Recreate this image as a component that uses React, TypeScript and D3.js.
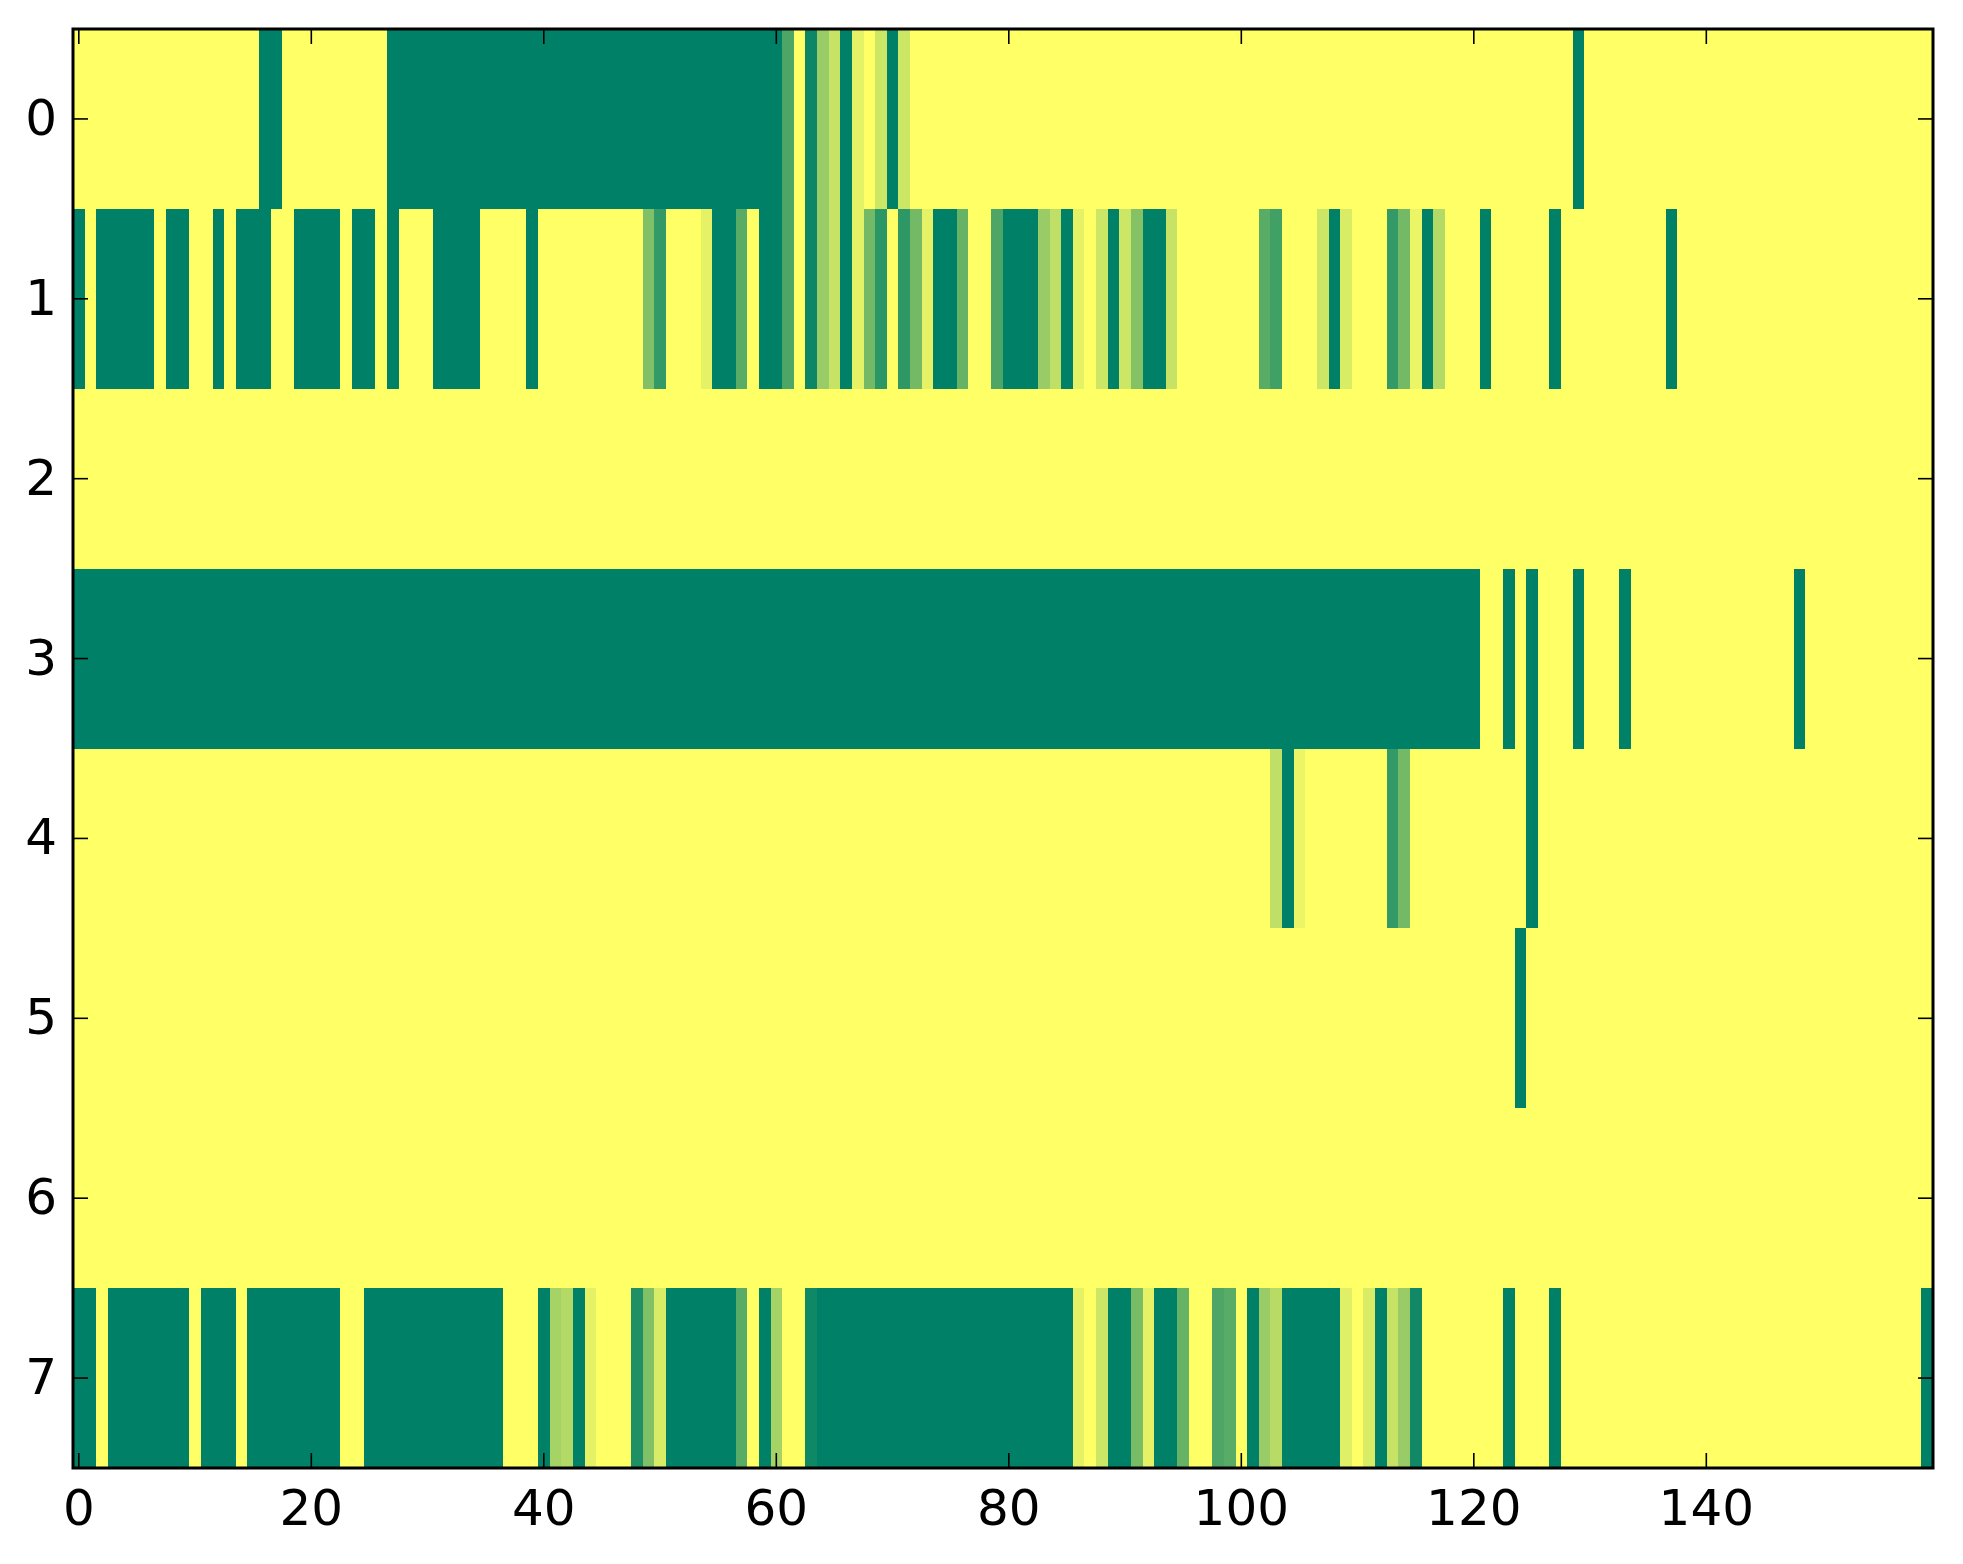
import React from "react";
import * as d3 from "d3";

// Each row is a list of [value, runLength] pairs (value in 0..1, summer colormap); lengths sum to 160.
const row0: [number, number][] = [
  [1, 16], [0, 2], [1, 9], [0, 34], [0.3, 1], [1, 1], [0.05, 1], [0.6, 1], [0.78, 1], [0, 1],
  [0.9, 1], [1, 1], [0.8, 1], [0, 1], [0.8, 1], [1, 57], [0, 1], [1, 30],
];
const row1: [number, number][] = [
  [0, 1], [1, 1], [0, 5], [1, 1], [0, 2], [1, 2], [0, 1], [1, 1], [0, 3], [1, 2], [0, 4], [1, 1],
  [0, 2], [1, 1], [0, 1], [1, 3], [0, 4], [1, 4], [0, 1], [1, 9], [0.5, 1], [0.2, 1], [1, 3],
  [0.9, 1], [0, 2], [0.35, 1], [1, 1], [0, 2], [0.3, 1], [1, 1], [0.05, 1], [0.6, 1], [0.78, 1],
  [0, 1], [0.9, 1], [0.45, 1], [0.17, 1], [1, 1], [0.18, 1], [0.45, 1], [0.9, 1], [0, 2],
  [0.4, 1], [1, 2], [0.3, 1], [0, 3], [0.6, 1], [0.75, 1], [0, 1], [0.9, 1], [1, 1], [0.8, 1],
  [0, 1], [0.8, 1], [0.52, 1], [0, 2], [0.78, 1], [1, 7], [0.35, 1], [0.25, 1], [1, 3], [0.8, 1],
  [0, 1], [0.85, 1], [1, 3], [0.2, 1], [0.45, 1], [0.92, 1], [0, 1], [0.7, 1], [1, 3], [0, 1],
  [1, 5], [0, 1], [1, 9], [0, 1], [1, 22],
];
const row2: [number, number][] = [[1, 160]];
const row3: [number, number][] = [
  [0, 121], [1, 2], [0, 1], [1, 1], [0, 1], [1, 3], [0, 1], [1, 3], [0, 1], [1, 14], [0, 1], [1, 11],
];
const row4: [number, number][] = [
  [1, 103], [0.75, 1], [0, 1], [0.92, 1], [1, 7], [0.2, 1], [0.45, 1], [1, 10], [0, 1], [1, 34],
];
const row5: [number, number][] = [[1, 124], [0, 1], [1, 35]];
const row6: [number, number][] = [[1, 160]];
const row7: [number, number][] = [
  [0, 2], [1, 1], [0, 7], [1, 1], [0, 3], [1, 1], [0, 8], [1, 2], [0, 12], [1, 3], [0, 1],
  [0.65, 1], [0.7, 1], [0, 1], [0.9, 1], [1, 3], [0.12, 1], [0.5, 1], [0.85, 1], [0, 6],
  [0.35, 1], [1, 1], [0, 1], [0.65, 1], [1, 2], [0.06, 1], [0, 22], [0.9, 1], [1, 1], [0.8, 1],
  [0, 2], [0.47, 1], [0.9, 1], [0, 2], [0.4, 1], [1, 2], [0.3, 1], [0.35, 1], [1, 1], [0, 1],
  [0.6, 1], [0.72, 1], [0, 5], [0.88, 1], [1, 1], [0.85, 1], [0, 1], [0.78, 1], [0.6, 1],
  [0.07, 1], [1, 7], [0, 1], [1, 3], [0, 1], [1, 31], [0, 1],
];

const rows = [row0, row1, row2, row3, row4, row5, row6, row7];
const xTicks = [0, 20, 40, 60, 80, 100, 120, 140];
const yTicks = [0, 1, 2, 3, 4, 5, 6, 7];
const nCols = 160;

const W = 1963;
const H = 1564;
const left = 73;
const right = 1933;
const top = 29;
const bottom = 1468;

export default function App() {
  const x = d3.scaleLinear().domain([-0.5, nCols - 0.5]).range([left, right]);
  const y = d3.scaleLinear().domain([-0.5, rows.length - 0.5]).range([top, bottom]);
  const color = d3.scaleLinear<string>().domain([0, 1]).range(["#008066", "#ffff66"]).interpolate(d3.interpolateRgb);

  const cells: { r: number; c0: number; n: number; v: number }[] = [];
  rows.forEach((runs, r) => {
    let c = 0;
    runs.forEach(([v, n]) => {
      cells.push({ r, c0: c, n, v });
      c += n;
    });
  });

  const tickLen = 15;
  const font = "'DejaVu Sans', sans-serif";

  return (
    <svg width={W} height={H} style={{ position: "absolute", left: 0, top: 0, background: "#fff" }}>
      <g shapeRendering="crispEdges">
        {cells.map((d, i) => (
          <rect
            key={i}
            x={x(d.c0 - 0.5)}
            y={y(d.r - 0.5)}
            width={x(d.c0 + d.n - 0.5) - x(d.c0 - 0.5)}
            height={y(d.r + 0.5) - y(d.r - 0.5)}
            fill={color(d.v)}
          />
        ))}
      </g>
      {xTicks.map((t) => (
        <g key={"xt" + t}>
          <line x1={x(t)} x2={x(t)} y1={bottom} y2={bottom - tickLen} stroke="#000" strokeWidth={1.6} />
          <line x1={x(t)} x2={x(t)} y1={top} y2={top + tickLen} stroke="#000" strokeWidth={1.6} />
          <text x={x(t)} y={1525} textAnchor="middle" fontFamily={font} fontSize={50} fill="#000">
            {t}
          </text>
        </g>
      ))}
      {yTicks.map((t) => (
        <g key={"yt" + t}>
          <line x1={left} x2={left + tickLen} y1={y(t)} y2={y(t)} stroke="#000" strokeWidth={1.6} />
          <line x1={right} x2={right - tickLen} y1={y(t)} y2={y(t)} stroke="#000" strokeWidth={1.6} />
          <text x={57} y={y(t) + 16} textAnchor="end" fontFamily={font} fontSize={50} fill="#000">
            {t}
          </text>
        </g>
      ))}
      <rect x={left} y={top} width={right - left} height={bottom - top} fill="none" stroke="#000" strokeWidth={3} />
    </svg>
  );
}
